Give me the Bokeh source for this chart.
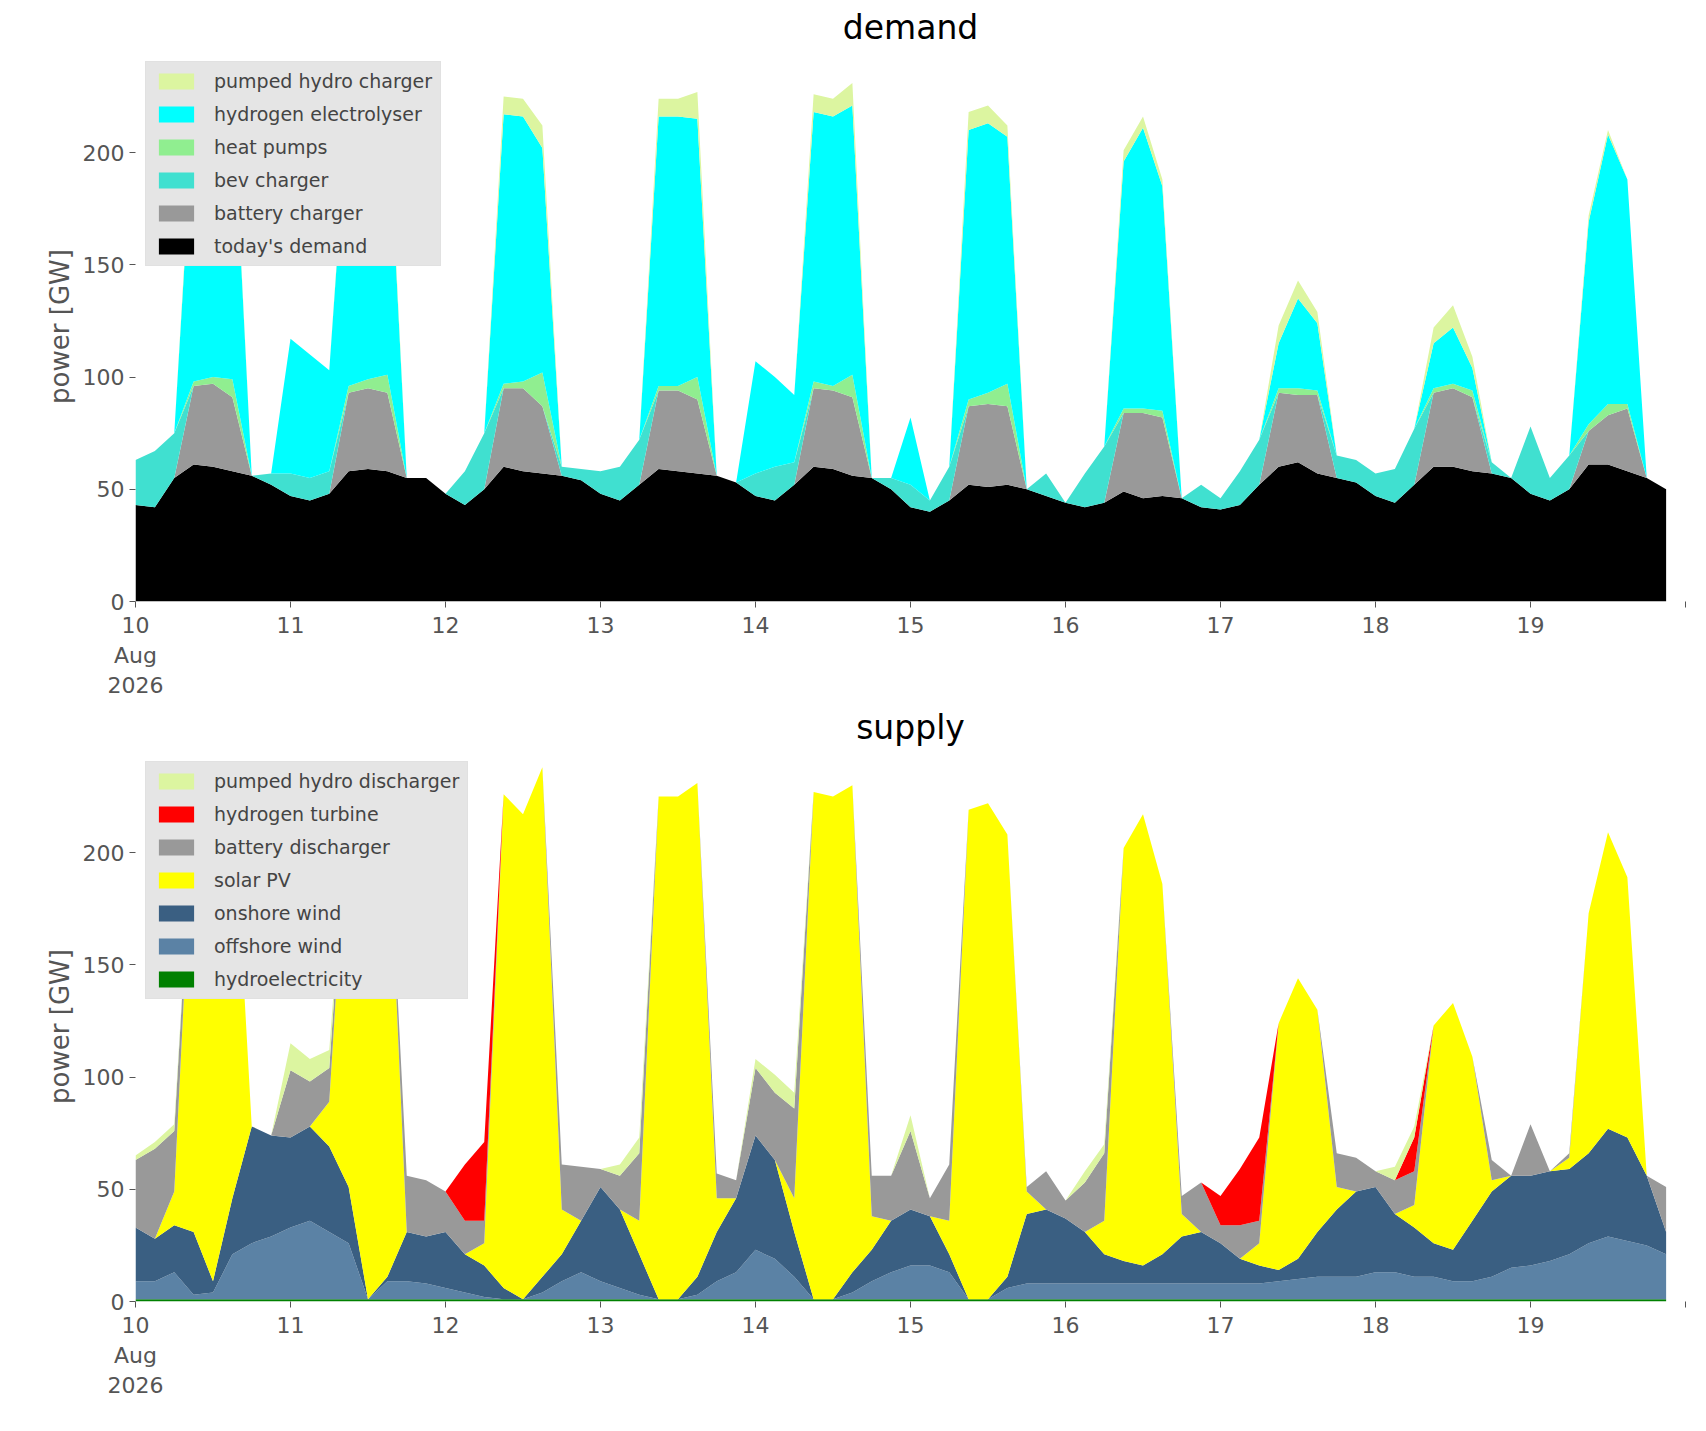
from bokeh.plotting import figure
from bokeh.layouts import column
from bokeh.models import ColumnDataSource, FixedTicker, Legend, LegendItem, Range1d
from bokeh.embed import file_html
from bokeh.resources import INLINE

# 3-hourly samples, 10 Aug 2026 00:00 .. 19 Aug 21:00
todays_demand = [43,42,55,61,60,58,56,52, 47,45,48,58,59,58,55,55, 48,43,50,60,58,57,56,54,
                 48,45,52,59,58,57,56,53, 47,45,52,60,59,56,55,50, 42,40,45,52,51,52,50,47,
                 44,42,44,49,46,47,46,42, 41,43,52,60,62,57,55,53, 47,44,52,60,60,58,57,55,
                 48,45,50,61,61,58,55,50]
battery_charger = [0,0,0,35,37,33,0,0, 0,0,0,35,36,35,0,0, 0,0,0,35,37,30,0,0, 0,0,0,35,36,33,0,0,
                   0,0,0,35,35,35,0,0, 0,0,0,35,37,35,0,0, 0,0,0,35,38,35,0,0, 0,0,0,33,30,35,0,0,
                   0,0,0,33,35,33,0,0, 0,0,0,15,22,28,0,0]
bev_charger = [20,25,20,0,0,0,0,5, 10,10,10,0,0,0,0,0, 0,15,25,0,0,0,4,5, 10,15,20,0,0,0,0,0,
               10,15,10,0,0,0,0,5, 10,5,15,0,0,0,0,10, 0,15,25,0,0,0,0,10, 5,15,20,0,0,0,10,10,
               10,15,25,0,0,0,5,0, 30,10,15,0,0,0,0,0]
heat_pumps = [0,0,0,2,3,8,0,0, 0,0,0,3,4,8,0,0, 0,0,0,2,3,15,0,0, 0,0,0,2,2,10,0,0,
              0,0,0,3,2,10,0,0, 0,0,0,3,5,10,0,0, 0,0,0,2,2,3,0,0, 0,0,0,2,3,2,0,0,
              0,0,0,2,2,3,0,0, 0,0,0,3,5,2,0,0]
electrolyser = [0,0,0,120,125,130,0,0, 60,55,45,130,128,125,0,0, 0,0,0,120,118,100,0,0,
                0,0,0,120,120,115,0,0, 50,40,30,120,120,120,0,0, 30,0,0,120,120,110,0,0,
                0,0,0,110,125,100,0,0, 0,0,0,20,40,30,0,0, 0,0,0,20,25,10,0,0, 0,0,0,90,120,100,0,0]
phs_charger = [0,0,0,4,5,3,0,0, 0,0,0,3,5,5,0,0, 0,0,0,8,8,10,0,0, 0,0,0,8,8,12,0,0,
               0,0,0,8,8,10,0,0, 0,0,0,8,8,5,0,0, 0,0,0,5,5,3,0,0, 0,0,0,8,8,5,0,0,
               0,0,0,7,10,5,0,0, 0,0,0,3,2,0,0,0]

hydro = [1]*80
offshore = [8,8,12,2,3,20,25,28, 32,35,30,25,0,8,8,7, 5,3,1,0,0,3,8,12, 8,5,2,0,0,2,8,12,
            22,18,10,0,0,3,8,12, 15,15,12,0,0,5,7,7, 7,7,7,7,7,7,7,7, 7,7,7,8,9,10,10,10,
            12,12,10,10,8,8,10,14, 15,17,20,25,28,26,24,20]
onshore = [24,19,21,28,5,25,52,45, 40,42,38,25,0,2,22,21, 25,17,14,5,0,7,12,23, 42,35,18,0,0,8,22,33,
           51,44,20,0,0,9,14,23, 25,22,8,0,0,5,31,33, 29,23,13,10,8,13,21,23, 18,11,8,5,9,20,30,38,
           38,26,22,15,14,27,38,41, 40,40,38,40,48,46,31,10]
solar = [0,0,15,192,222,187,0,0, 0,0,20,176,232,215,0,0, 0,0,10,220,216,227,20,0, 0,0,15,224,224,220,15,0,
         0,0,15,226,224,217,15,0, 0,0,15,218,221,197,10,0, 0,0,15,184,201,165,10,0, 0,0,10,110,125,99,10,0,
         0,0,10,97,110,73,5,0, 0,0,5,107,132,116,0,0]
battery_dis = [30,40,27,0,0,0,0,0, 30,20,15,0,0,0,25,25, 18,15,10,0,0,0,20,24, 8,15,30,0,0,0,11,8,
               30,30,40,0,0,0,18,20, 35,8,25,0,0,0,2,17, 8,22,30,0,0,0,8,22, 8,15,10,0,0,0,15,15,
               7,15,15,0,0,0,9,0, 23,0,2,0,0,0,0,20]
h2_turbine = [0]*16 + [0,25,35,0,0,0,0,0] + [0]*32 + [13,25,37,0,0,0,0,0] + [0,0,15,0,0,0,0,0] + [0]*8
phs_dis = [2,3,3,0,0,0,0,0, 12,10,8,0,0,0,0,0, 0,0,0,0,0,0,0,0, 0,5,7,0,0,0,0,0,
           4,8,7,0,0,0,0,0, 7,0,0,0,0,0,0,0, 0,5,4,0,0,0,0,0, 0,0,0,0,0,0,0,0,
           0,6,5,0,0,0,0,0, 0,0,0,0,0,0,0,0]

days = [10 + i / 8 for i in range(80)]
tick_vals = list(range(10, 21))
tick_labels = {10: "10\nAug\n2026"}
for d in range(11, 20):
    tick_labels[d] = str(d)
tick_labels[20] = ""

W, H = 1690, 700

def make_fig(title, names, data, colors, labels):
    src = ColumnDataSource(dict(x=days, **{n: v for n, v in zip(names, data)}))
    p = figure(width=W, height=H, output_backend="svg", toolbar_location=None,
               title=title, x_range=Range1d(10, 20), y_range=Range1d(0, 245),
               min_border_left=135, min_border_right=5)
    rs = p.varea_stack(stackers=names, x="x", color=colors, source=src)
    p.title.align = "center"
    p.title.text_font_size = "33px"
    p.title.text_font_style = "normal"
    p.title.text_font = "DejaVu Sans"
    p.title.text_color = "black"
    p.xgrid.visible = False
    p.ygrid.visible = False
    p.outline_line_color = None
    p.background_fill_color = "white"
    p.xaxis.ticker = FixedTicker(ticks=tick_vals)
    p.xaxis.major_label_overrides = tick_labels
    p.yaxis.ticker = FixedTicker(ticks=[0, 50, 100, 150, 200])
    p.yaxis.axis_label = "power [GW]"
    p.yaxis.axis_line_color = None
    p.xaxis.axis_line_color = None
    for ax in (p.xaxis, p.yaxis):
        ax.major_label_text_font_size = "22px"
        ax.major_label_text_color = "#555555"
        ax.major_label_text_font = "DejaVu Sans"
        ax.major_tick_line_color = "#555555"
        ax.minor_tick_line_color = None
        ax.major_tick_out = 6
        ax.major_tick_in = 0
    p.yaxis.axis_label_text_font_size = "26px"
    p.yaxis.axis_label_text_font_style = "normal"
    p.yaxis.axis_label_text_color = "#555555"
    p.yaxis.axis_label_text_font = "DejaVu Sans"
    items = [LegendItem(label=l, renderers=[r]) for l, r in zip(labels, rs)][::-1]
    leg = Legend(items=items, location="top_left", background_fill_color="#e5e5e5",
                 background_fill_alpha=1, border_line_color="#dddddd",
                 label_text_font_size="19px", label_text_font="DejaVu Sans",
                 glyph_width=44, glyph_height=20, label_height=20, spacing=11,
                 padding=8, margin=10, label_standoff=16)
    p.add_layout(leg)
    return p

p1 = make_fig("demand",
              ["d0", "d1", "d2", "d3", "d4", "d5"],
              [todays_demand, battery_charger, bev_charger, heat_pumps, electrolyser, phs_charger],
              ["#000000", "#999999", "#40e0d0", "#90ee90", "#00ffff", "#dcf5a0"],
              ["today's demand", "battery charger", "bev charger", "heat pumps",
               "hydrogen electrolyser", "pumped hydro charger"])
p2 = make_fig("supply",
              ["s0", "s1", "s2", "s3", "s4", "s5", "s6"],
              [hydro, offshore, onshore, solar, battery_dis, h2_turbine, phs_dis],
              ["#008000", "#5b82a5", "#3a5f82", "#ffff00", "#999999", "#ff0000", "#dcf5a0"],
              ["hydroelectricity", "offshore wind", "onshore wind", "solar PV",
               "battery discharger", "hydrogen turbine", "pumped hydro discharger"])

layout = column(p1, p2)
open("out.html", "w").write(file_html(layout, INLINE))
